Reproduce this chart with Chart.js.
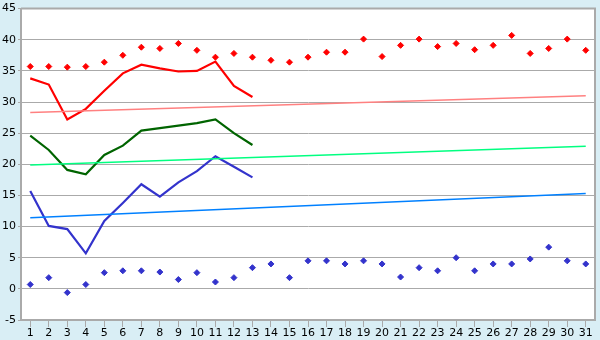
<!DOCTYPE html>
<html>
<head>
<meta charset="utf-8">
<script src="https://cdn.jsdelivr.net/npm/chart.js@4/dist/chart.umd.min.js"></script>
<style>
  html, body { margin: 0; padding: 0; background: #d9eef5; }
  #wrap { width: 600px; height: 340px; }
</style>
</head>
<body>
<div id="wrap"><canvas id="chart" width="600" height="340"></canvas></div>
<script>
// days of the month
var days = [];
for (var d = 1; d <= 31; d++) days.push(String(d));

// daily highs (dots) for the whole month
var maxDots = [35.7, 35.7, 35.6, 35.7, 36.4, 37.5, 38.8, 38.6, 39.4, 38.3,
               37.2, 37.8, 37.2, 36.7, 36.4, 37.2, 38.0, 38.0, 40.1, 37.3,
               39.1, 40.1, 38.9, 39.4, 38.4, 39.1, 40.7, 37.8, 38.6, 40.1, 38.3];
// daily lows (dots)
var minDots = [0.7, 1.8, -0.6, 0.7, 2.6, 2.9, 2.9, 2.7, 1.5, 2.6,
               1.1, 1.8, 3.4, 4.0, 1.8, 4.5, 4.5, 4.0, 4.5, 4.0,
               1.9, 3.4, 2.9, 5.0, 2.9, 4.0, 4.0, 4.8, 6.7, 4.5, 4.0];

// current month so far (days 1-13)
var maxLine = [33.8, 32.8, 27.2, 28.9, 31.8, 34.6, 36.0, 35.4, 34.9, 35.0, 36.5, 32.6, 30.8];
var avgLine = [24.6, 22.3, 19.1, 18.4, 21.5, 23.0, 25.4, 25.8, 26.2, 26.6, 27.2, 25.0, 23.1];
var minLine = [15.7, 10.1, 9.6, 5.7, 10.9, 13.8, 16.8, 14.8, 17.1, 18.9, 21.3, 19.6, 17.9];

// trend lines: value at day 1 and at day 31
var maxTrend = [28.3, 31.0];
var avgTrend = [19.9, 22.9];
var minTrend = [11.4, 15.3];

function trend(ends) {
  return [{ x: days[0], y: ends[0] }, { x: days[days.length - 1], y: ends[1] }];
}

var plotBg = {
  id: 'plotBg',
  beforeDraw: function (chart) {
    var a = chart.chartArea, c = chart.ctx;
    c.save();
    c.fillStyle = '#d9eef5';
    c.fillRect(0, 0, chart.width, chart.height);
    c.fillStyle = '#ffffff';
    c.fillRect(a.left, a.top, a.right - a.left, a.bottom - a.top);
    c.restore();
  },
  afterDatasetsDraw: function (chart) {
    var a = chart.chartArea, c = chart.ctx;
    c.save();
    c.strokeStyle = '#aaaaaa';
    c.lineWidth = 2;
    c.beginPath();
    c.moveTo(a.left, a.top);
    c.lineTo(a.right, a.top);
    c.lineTo(a.right, a.bottom);
    c.stroke();
    c.restore();
  }
};

Chart.defaults.font.family = '"DejaVu Sans", Verdana, sans-serif';
Chart.defaults.font.size = 11;
Chart.defaults.color = '#000000';

var dot = { showLine: false, pointStyle: 'rectRot', pointRadius: 3, pointHoverRadius: 3 };

new Chart(document.getElementById('chart'), {
  type: 'line',
  data: {
    labels: days,
    datasets: [
      Object.assign({ data: maxDots, borderColor: '#ff0000', backgroundColor: '#ff0000' }, dot),
      Object.assign({ data: minDots, borderColor: '#3333cc', backgroundColor: '#3333cc' }, dot),
      { data: trend(maxTrend), borderColor: '#ff8080', borderWidth: 1.5, pointRadius: 0 },
      { data: trend(avgTrend), borderColor: '#00ff80', borderWidth: 1.5, pointRadius: 0 },
      { data: trend(minTrend), borderColor: '#0080ff', borderWidth: 1.5, pointRadius: 0 },
      { data: maxLine, borderColor: '#ff0000', borderWidth: 2.2, pointRadius: 0 },
      { data: avgLine, borderColor: '#006400', borderWidth: 2.2, pointRadius: 0 },
      { data: minLine, borderColor: '#3333cc', borderWidth: 2.2, pointRadius: 0 }
    ]
  },
  options: {
    responsive: false,
    animation: false,
    layout: { padding: { top: 5, right: 5, left: 0, bottom: 0 } },
    plugins: { legend: { display: false }, tooltip: { enabled: false } },
    scales: {
      x: {
        offset: true,
        grid: { drawOnChartArea: false, tickLength: 7, color: '#aaaaaa', offset: false },
        border: { color: '#aaaaaa', width: 2 },
        ticks: { autoSkip: false, maxRotation: 0, padding: 0 },
        afterFit: function (s) { s.height = 20; }
      },
      y: {
        min: -5, max: 45,
        ticks: { stepSize: 5, padding: 2 },
        grid: { color: '#aaaaaa', tickLength: 3, lineWidth: 1 },
        border: { color: '#aaaaaa', width: 2 },
        afterFit: function (s) { s.width = 21; }
      }
    }
  },
  plugins: [plotBg]
});
</script>
</body>
</html>
